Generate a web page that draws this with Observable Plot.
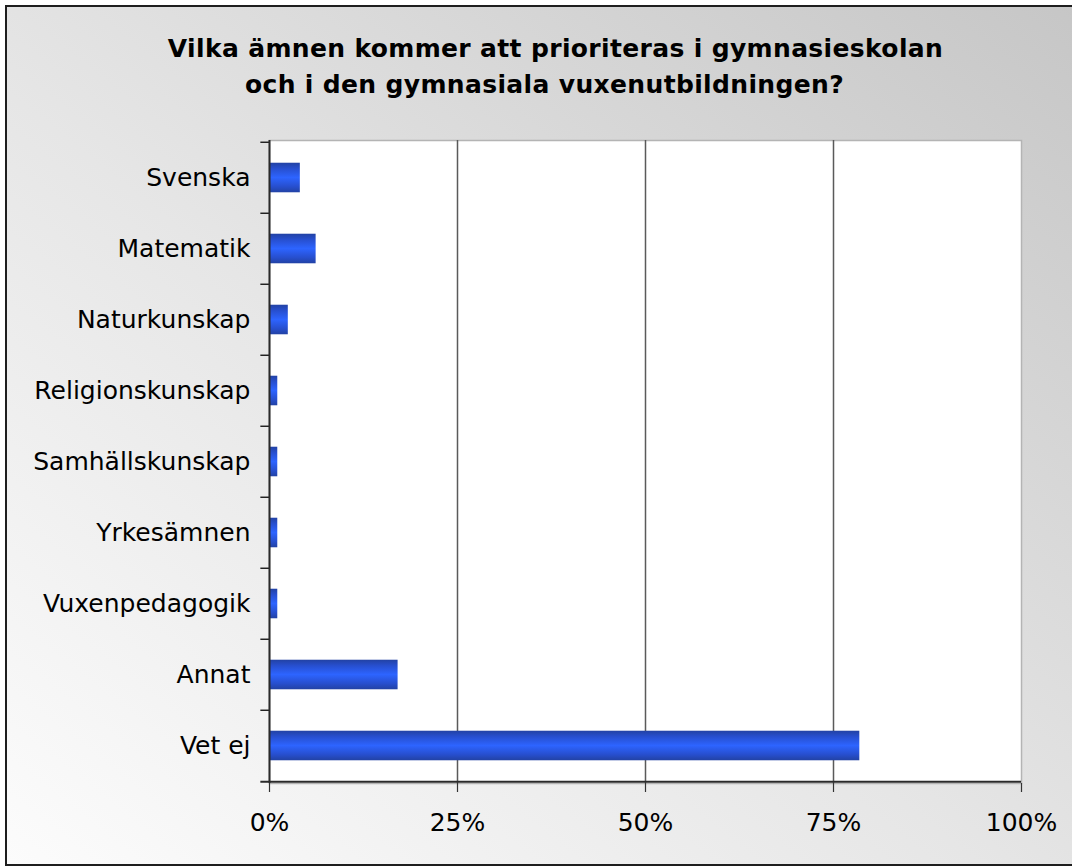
<!DOCTYPE html>
<html>
<head>
<meta charset="utf-8">
<script src="https://cdn.jsdelivr.net/npm/d3@7"></script>
<script src="https://cdn.jsdelivr.net/npm/@observablehq/plot@0.6"></script>
<style>
  html, body { margin: 0; padding: 0; background: #ffffff; }
  #wrap { position: relative; width: 1072px; height: 868px; overflow: hidden; font-family: "DejaVu Sans", Verdana, sans-serif; }
  #bg { position: absolute; left: 5px; top: 5px; width: 1080px; height: 857px; border: 2px solid #1e1e1e;
        background: linear-gradient(to top right, #fcfcfc 0%, #e6e6e6 45%, #c6c6c6 100%); }
  .tline { position: absolute; left: 0; text-align: center; font-weight: bold; white-space: nowrap;
           font-size: 25px; letter-spacing: 0.35px; line-height: 36px; color: #000; }
  #t1 { top: 31px; width: 1111px; }
  #t2 { top: 67px; width: 1089px; }
  #chart { position: absolute; left: 0; top: 0; }
</style>
</head>
<body>
<div id="wrap">
  <div id="bg"></div>
  <div id="chart"></div>
  <div class="tline" id="t1">Vilka ämnen kommer att prioriteras i gymnasieskolan</div>
  <div class="tline" id="t2">och i den gymnasiala vuxenutbildningen?</div>
</div>
<script>
const categories = ["Svenska", "Matematik", "Naturkunskap", "Religionskunskap", "Samhällskunskap", "Yrkesämnen", "Vuxenpedagogik", "Annat", "Vet ej"];
const shares = [0.041, 0.062, 0.025, 0.011, 0.011, 0.011, 0.011, 0.171, 0.785];
const xTicks = [0, 0.25, 0.5, 0.75, 1];
const gridTicks = [0.25, 0.5, 0.75];

const rows = categories.map((c, i) => ({category: c, value: shares[i]}));

const W = 1072, H = 868;
const mL = 269, mR = 51, mT = 140, mB = 85;
const step = (H - mT - mB) / categories.length;

const chart = Plot.plot({
  width: W,
  height: H,
  marginLeft: mL,
  marginRight: mR,
  marginTop: mT,
  marginBottom: mB,
  style: {background: "transparent", fontFamily: "DejaVu Sans, Verdana, sans-serif", color: "#000", overflow: "visible"},
  x: {domain: [0, 1], ticks: xTicks, label: null, tickFormat: d => Math.round(d * 100) + "%"},
  y: {domain: categories, padding: 0, label: null},
  marks: [
    Plot.frame({fill: "white", stroke: "#b4b4b4", strokeWidth: 1.5}),
    Plot.ruleX(gridTicks, {stroke: "#5a5a5a", strokeWidth: 1.5}),
    Plot.barX(rows, {y: "category", x: "value", fill: "url(#barGrad)", insetTop: (step - 30) / 2, insetBottom: (step - 30) / 2}),
    // left category boundary ticks
    Plot.ruleY(categories, {y: d => d, x1: -0.0115, x2: 0, dy: -step / 2, stroke: "#222", strokeWidth: 1.5}),
    Plot.ruleY(categories.slice(-1), {y: d => d, x1: -0.0115, x2: 1, dy: step / 2, stroke: "#2a2a2a", strokeWidth: 2}),
    Plot.ruleX([0], {stroke: "#2a2a2a", strokeWidth: 2}),
    Plot.axisY({label: null, tickSize: 0, tickPadding: 19, fontSize: 25, stroke: "none"}),
    Plot.axisX({label: null, ticks: xTicks, tickFormat: d => Math.round(d * 100) + "%", tickSize: 9, tickPadding: 21, fontSize: 25, stroke: "#333", strokeWidth: 1.2})
  ]
});

const defs = d3.select(chart).insert("defs", ":first-child");
const g = defs.append("linearGradient").attr("id", "barGrad").attr("x1", 0).attr("y1", 0).attr("x2", 0).attr("y2", 1);
[[0, "#2242a4"], [0.2, "#274fcf"], [0.5, "#2d64ff"], [0.8, "#274fcf"], [1, "#2242a4"]].forEach(([o, c]) =>
  g.append("stop").attr("offset", o).attr("stop-color", c));

document.getElementById("chart").appendChild(chart);
</script>
</body>
</html>
